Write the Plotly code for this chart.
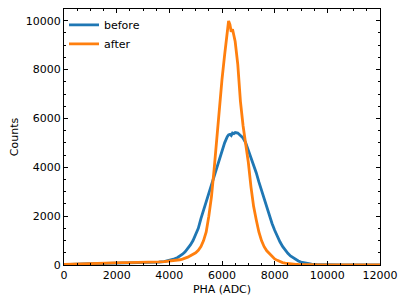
import plotly.graph_objects as go

# PHA bin centres (ADC)
pha = [0, 200, 400, 600, 800, 1000, 1200, 1400, 1600, 1800, 2000, 2200, 2400, 2600, 2800,
       3000, 3200, 3400, 3600, 3800, 4000, 4100, 4200, 4300, 4400, 4500, 4600, 4700, 4800,
       4900, 5000, 5100, 5200, 5300, 5400, 5500, 5600, 5700, 5800, 5900, 6000, 6100, 6200,
       6250, 6300, 6350, 6400, 6450, 6500, 6600, 6700, 6800, 6900, 7000, 7100, 7200, 7300,
       7400, 7500, 7600, 7700, 7800, 7900, 8000, 8100, 8200, 8300, 8400, 8500, 8600, 8700,
       8800, 8900, 9000, 9200, 9400, 9600, 9800, 10000, 10500, 11000, 11500, 12000]

before = [10, 25, 35, 40, 50, 55, 60, 65, 70, 75, 75, 75, 80, 80, 85,
          90, 95, 105, 120, 140, 180, 210, 250, 300, 360, 440, 540, 670, 820,
          1000, 1230, 1500, 1900, 2250, 2600, 2950, 3300, 3650, 4000, 4350, 4650, 5000, 5250,
          5330, 5350, 5300, 5400, 5380, 5420, 5400, 5300, 5200, 5000, 4700, 4400, 4100, 3780,
          3400, 3050, 2650, 2300, 2000, 1700, 1420, 1150, 950, 760, 610, 480, 370, 290,
          220, 165, 120, 70, 40, 20, 12, 8, 4, 2, 1, 1]

after = [20, 30, 40, 50, 60, 70, 80, 90, 95, 100, 100, 100, 100, 100, 100,
         105, 110, 115, 125, 140, 155, 165, 180, 195, 215, 240, 275, 320, 380,
         440, 500, 600, 750, 1000, 1350, 2000, 2800, 3900, 5200, 6400, 7600, 8600, 9450,
         9990, 9850, 9550, 9650, 9300, 9150, 8200, 6700, 5700, 4950, 4200, 3200, 2400, 1850,
         1350, 1000, 750, 580, 460, 340, 250, 190, 140, 100, 75, 55, 40, 32,
         25, 20, 15, 10, 8, 7, 6, 5, 4, 3, 2, 2]

x_ticks = [0, 2000, 4000, 6000, 8000, 10000, 12000]
x_labels = ["0", "2000", "4000", "6000", "8000", "10000", "12000"]
y_ticks = [0, 2000, 4000, 6000, 8000, 10000]
y_labels = ["0", "2000", "4000", "6000", "8000", "10000"]

FONT = "DejaVu Sans"

fig = go.Figure()
fig.add_trace(go.Scatter(x=pha, y=before, mode="lines", name="before",
                         line=dict(color="#1f77b4", width=2.8)))
fig.add_trace(go.Scatter(x=pha, y=after, mode="lines", name="after",
                         line=dict(color="#ff7f0e", width=2.8)))

axis_common = dict(
    showgrid=False, zeroline=False, showline=True, linecolor="black", linewidth=1,
    mirror="ticks", ticks="inside", ticklen=4, tickwidth=1, tickcolor="black",
    tickfont=dict(family=FONT, size=11, color="black"), automargin=False,
    minor=dict(ticks="inside", ticklen=2, tickwidth=1, tickcolor="black", dtick=500),
)

# page body has a default 8px margin, so the figure is sized to fill the rest
fig.update_layout(
    width=391, height=289,
    margin=dict(l=56, r=19, t=1, b=32),
    paper_bgcolor="white", plot_bgcolor="white",
    font=dict(family=FONT, size=11, color="black"),
    showlegend=True,
    legend=dict(x=0.0, y=0.995, xanchor="left", yanchor="top",
                bgcolor="rgba(0,0,0,0)", font=dict(family=FONT, size=11),
                tracegroupgap=0),
    xaxis=dict(axis_common, range=[0, 12000], tickvals=x_ticks, ticktext=x_labels,
               title=dict(text="PHA (ADC)", font=dict(family=FONT, size=11), standoff=4)),
    yaxis=dict(axis_common, range=[0, 10480], tickvals=y_ticks, ticktext=y_labels,
               title=dict(text="Counts", font=dict(family=FONT, size=11), standoff=6)),
)

fig.write_html("out.html")
